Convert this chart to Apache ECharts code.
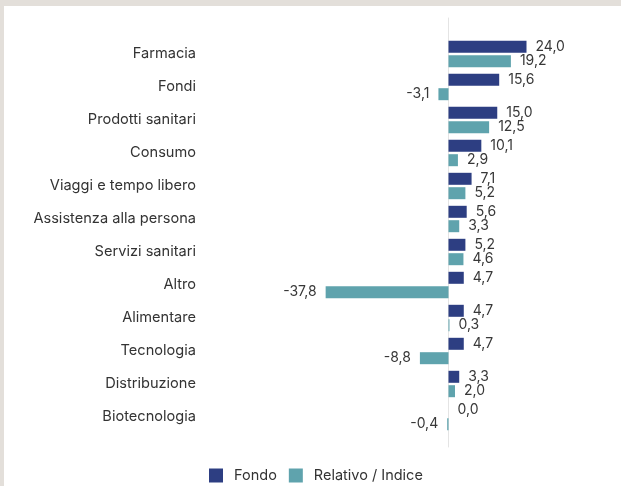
<!DOCTYPE html>
<html>
<head>
<meta charset="utf-8">
<script src="https://cdn.jsdelivr.net/npm/echarts@6/dist/echarts.min.js"></script>
<style>
  html, body { margin: 0; padding: 0; width: 621px; height: 486px; background: #e3dfda; overflow: hidden; }
  #chart { position: absolute; left: 4px; top: 6px; width: 617px; height: 480px; background: #ffffff; }
</style>
</head>
<body>
<div id="chart"></div>
<script>
const categories = ['Farmacia', 'Fondi', 'Prodotti sanitari', 'Consumo', 'Viaggi e tempo libero',
  'Assistenza alla persona', 'Servizi sanitari', 'Altro', 'Alimentare', 'Tecnologia',
  'Distribuzione', 'Biotecnologia'];
const fondo = [24.0, 15.6, 15.0, 10.1, 7.1, 5.6, 5.2, 4.7, 4.7, 4.7, 3.3, 0.0];
const relativo = [19.2, -3.1, 12.5, 2.9, 5.2, 3.3, 4.6, -37.8, 0.3, -8.8, 2.0, -0.4];
const seriesNames = ['Fondo', 'Relativo / Indice'];

const fmt = v => v.toFixed(1).replace('.', ',');
const toItems = arr => arr.map(v => ({ value: v, label: { position: v < 0 ? 'left' : 'right' } }));

const chart = echarts.init(document.getElementById('chart'), null, { renderer: 'canvas' });
const labelStyle = { show: true, distance: 9, fontFamily: 'Inter', fontSize: 14, color: '#383838',
  formatter: p => fmt(p.value) };

chart.setOption({
  animation: false,
  backgroundColor: '#ffffff',
  grid: [
    { left: 314.5, right: 75, top: 31.5, bottom: 52.5, containLabel: false },
    { left: 314.5, right: 75, top: 12, bottom: 39, containLabel: false }
  ],
  legend: {
    data: seriesNames,
    left: 205, top: 462, padding: 0,
    itemWidth: 14, itemHeight: 14, itemGap: 12,
    icon: 'rect',
    textStyle: { fontFamily: 'Inter', fontSize: 14.5, color: '#333333', padding: [0, 0, 0, 6] }
  },
  xAxis: [
    { type: 'value', gridIndex: 0, min: -40, max: 30, show: false },
    { type: 'value', gridIndex: 1, min: -40, max: 30, show: false }
  ],
  yAxis: [
    { type: 'category', gridIndex: 0, data: categories, inverse: true,
      axisLine: { show: false }, axisTick: { show: false }, splitLine: { show: false },
      axisLabel: { margin: 122.5, fontFamily: 'Inter', fontSize: 14.6, color: '#333333' } },
    { type: 'value', gridIndex: 1, min: 0, max: 1,
      axisLine: { show: true, onZero: true, lineStyle: { color: '#e4e4e4', width: 1 } },
      axisTick: { show: false }, axisLabel: { show: false }, splitLine: { show: false } }
  ],
  series: [
    { name: seriesNames[0], type: 'bar', xAxisIndex: 0, yAxisIndex: 0, data: toItems(fondo),
      barWidth: 12, barGap: '20%', itemStyle: { color: '#2d3e82' }, label: labelStyle },
    { name: seriesNames[1], type: 'bar', xAxisIndex: 0, yAxisIndex: 0, data: toItems(relativo),
      barWidth: 12, barGap: '20%', itemStyle: { color: '#5fa3ad' }, label: labelStyle }
  ]
});
</script>
</body>
</html>
